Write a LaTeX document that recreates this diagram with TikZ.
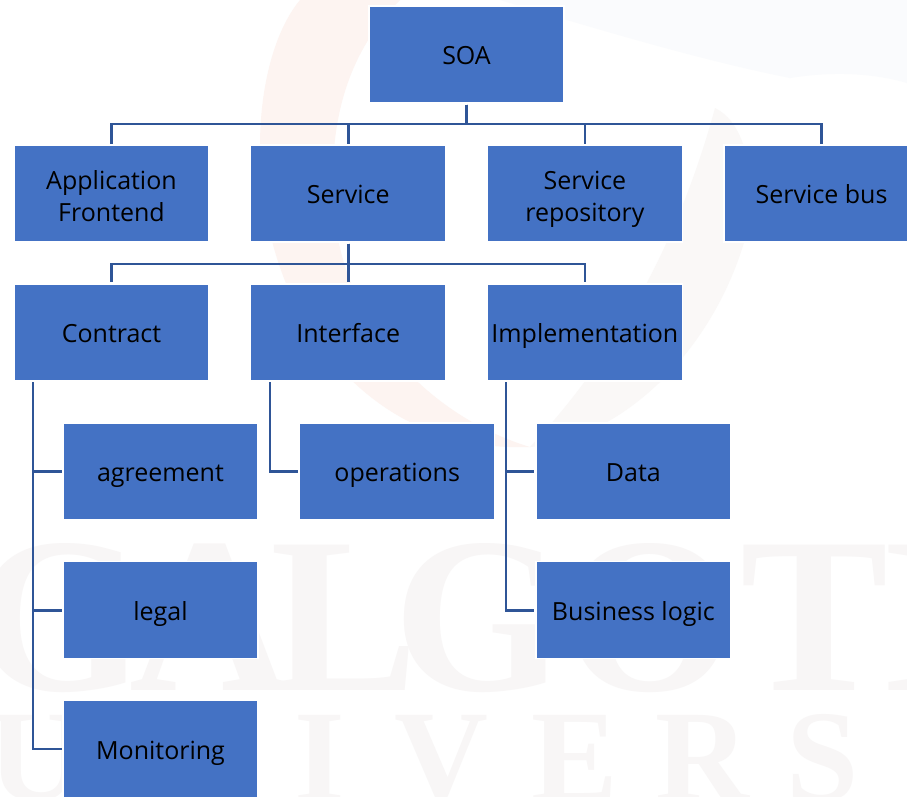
\documentclass[tikz,border=0pt]{standalone}
\usepackage{fontspec}
\setmainfont{Open Sans}
\newfontfamily\wmfont{Liberation Serif}
\usetikzlibrary{positioning}
\definecolor{box_fil}{RGB}{68, 114, 196}
\definecolor{link_col}{RGB}{47, 85, 151}
\definecolor{wm_red}{RGB}{253, 244, 241}
\definecolor{wm_grey}{RGB}{250, 248, 247}
\definecolor{wm_blue}{RGB}{250, 251, 253}
\definecolor{wm_text}{RGB}{248, 246, 246}
\newcommand\lab{\rule[-6pt]{0pt}{32pt}}
\newcommand\labtop{\rule{0pt}{30pt}}
\tikzset{bluebox/.style = {rectangle, inner sep=0pt, outer sep=0pt, minimum width=195pt, minimum height=97pt, draw=white, fill=box_fil, line width=1.5pt, align=center, font=\fontsize{25pt}{32pt}\selectfont, execute at begin node=\lab, execute at end node=\lab}}
\tikzset{mylink/.style = {line width=2.6pt, link_col, shorten <=1.5pt, shorten >=1.5pt}}
\tikzset{wmbig/.style = {wm_text, inner sep=0pt, anchor=base, font=\wmfont\bfseries\fontsize{222pt}{222pt}\selectfont}}
\tikzset{wmsmall/.style = {wm_text, inner sep=0pt, anchor=base, font=\wmfont\bfseries\fontsize{130pt}{130pt}\selectfont}}
\begin{document}
\begin{tikzpicture}[x=1pt,y=1pt]
\clip (0,0) rectangle (907,-796);
\fill[white] (0,0) rectangle (907,-796);

% faded backdrop
\begin{scope}[yscale=-1]
\fill[wm_red] (300,0) .. controls (250,60) and (240,220) .. (310,330) .. controls (370,420) and (450,450) .. (530,447) .. controls (440,420) and (350,340) .. (335,220) .. controls (325,120) and (350,50) .. (400,0) -- cycle;
\fill[wm_grey] (530,447) .. controls (620,440) and (720,350) .. (750,220) .. controls (755,160) and (740,120) .. (715,108) .. controls (690,200) and (640,330) .. (530,447) -- cycle;
\fill[wm_blue] (500,0) .. controls (600,30) and (700,60) .. (790,78) .. controls (840,70) and (880,75) .. (907,83) -- (907,0) -- cycle;
\end{scope}
\foreach \c/\x in {G/60,A/210,L/345,G/480,O/650,T/815,I/925}{
	\node[wmbig] (wm\x) at (\x,-690) {\c};
	}
\foreach \c/\x in {U/35,N/185,I/320,V/441,E/575,R/702,S/823}{
	\node[wmsmall] (wm\x) at (\x,-800) {\c};
	}

% top level
\node[bluebox] (soa) at (466.5,-54.5) {SOA};
\node[bluebox] (app) at (111.5,-193.5) {\labtop Application\\Frontend};
\node[bluebox, right=41.7pt of app] (service) {Service};
\node[bluebox, right=41.7pt of service] (repo) {\labtop Service\\repository};
\node[bluebox, right=41.7pt of repo] (bus) {Service bus};

% second level
\node[bluebox, below=41.9pt of app] (contract) {Contract};
\node[bluebox, below=41.9pt of service] (iface) {Interface};
\node[bluebox, below=41.9pt of repo] (impl) {Implementation};

% leaves
\node[bluebox, below=41.9pt of contract, xshift=49pt] (agree) {agreement};
\node[bluebox, below=41.9pt of agree] (legal) {legal};
\node[bluebox, below=41.9pt of legal] (monitor) {Monitoring};
\node[bluebox, below=41.9pt of iface, xshift=49pt] (ops) {operations};
\node[bluebox, below=41.9pt of impl, xshift=48.5pt] (data) {Data};
\node[bluebox, below=41.9pt of data] (logic) {Business logic};

\coordinate (topbar) at (0,-124);
\coordinate (midbar) at (0,-264);
\foreach \j in {app,service,repo,bus}{
	\draw[mylink] (soa.south) -- (soa.south |- topbar) -| (\j.north);
	}
\foreach \j in {contract,iface,impl}{
	\draw[mylink] (service.south) -- (service.south |- midbar) -| (\j.north);
	}
\coordinate (cdrop) at (33,0);
\coordinate (idrop) at (270,0);
\coordinate (mdrop) at (506,0);
\foreach \j in {agree,legal,monitor}{
	\draw[mylink] (cdrop |- contract.south) |- (\j.west);
	}
\draw[mylink] (idrop |- iface.south) |- (ops.west);
\foreach \j in {data,logic}{
	\draw[mylink] (mdrop |- impl.south) |- (\j.west);
	}
\end{tikzpicture}
\end{document}
